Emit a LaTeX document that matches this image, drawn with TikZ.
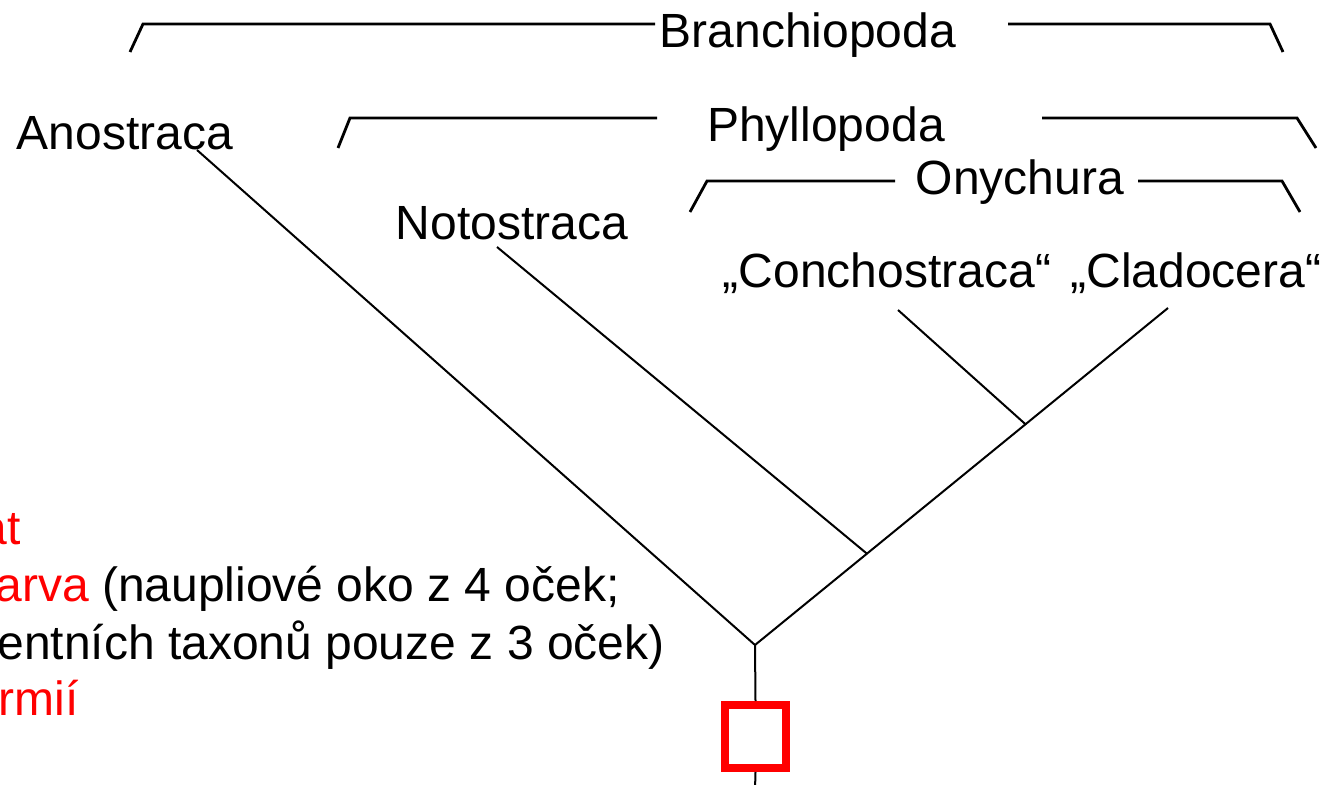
\documentclass[tikz,border=0pt]{standalone}
\usepackage{fontspec}
\setmainfont{Liberation Sans}
\usetikzlibrary{calc}
\begin{document}
\begin{tikzpicture}[x=0.5pt,y=-0.5pt,
  lbl/.style={inner sep=0pt,font=\fontsize{24}{28}\selectfont},
  tree/.style={line width=1pt},
  brk/.style={line width=1.4pt},
  redbox/.style={draw=red,line width=4pt}]
\useasboundingbox (0,0) rectangle (1338,785);
\clip (0,0) rectangle (1338,785);
% labels
\node[lbl,anchor=base] (bra) at (808,48) {Branchiopoda};
\node[lbl,anchor=base] (phy) at (826,142) {Phyllopoda};
\node[lbl,anchor=base] (ony) at (1020,195) {Onychura};
\node[lbl,anchor=base] (ano) at (125,150) {Anostraca};
\node[lbl,anchor=base] (not) at (512,240) {Notostraca};
\node[lbl,anchor=base] (con) at (887,288) {„Conchostraca“};
\node[lbl,anchor=base] (cla) at (1196,288) {„Cladocera“};
% brackets
\coordinate (b1) at (130,52); \coordinate (b2) at (143,24); \coordinate (b3) at (655,24);
\coordinate (b4) at (1008,24); \coordinate (b5) at (1270,24); \coordinate (b6) at (1283,52);
\draw[brk] (b1) -- (b2) -- (b3);
\draw[brk] (b4) -- (b5) -- (b6);
\coordinate (p1) at (338,148); \coordinate (p2) at (350,118); \coordinate (p3) at (657,118);
\coordinate (p4) at (1042,118); \coordinate (p5) at (1297,118); \coordinate (p6) at (1316,148);
\draw[brk] (p1) -- (p2) -- (p3);
\draw[brk] (p4) -- (p5) -- (p6);
\coordinate (o1) at (690,212); \coordinate (o2) at (707,181); \coordinate (o3) at (895,181);
\coordinate (o4) at (1138,181); \coordinate (o5) at (1282,181); \coordinate (o6) at (1300,212);
\draw[brk] (o1) -- (o2) -- (o3);
\draw[brk] (o4) -- (o5) -- (o6);
% tree
\coordinate (root) at (755,645);
\coordinate (anoE) at (197,150);
\coordinate (notE) at (497,247);
\coordinate (conE) at (898,310);
\coordinate (claE) at (1168,308);
\coordinate (jn) at ($(root)!0.271!(claE)$);
\coordinate (jc) at ($(root)!0.655!(claE)$);
\draw[tree] (anoE) -- (root) -- (claE);
\draw[tree] (notE) -- (jn);
\draw[tree] (conE) -- (jc);
\node[redbox,minimum width=30.5pt,minimum height=31.5pt,inner sep=0pt] (box) at (755.5,736.5) {};
\coordinate (bot) at (755,790);
\draw[tree] (root) -- (box.north);
\draw[tree] (box.south) -- (bot);
% left text
\node[lbl,anchor=base west,text=red] (t1) at (-20,545) {at};
\node[lbl,anchor=base west] (t2) at (-5,602) {\textcolor{red}{arva} (naupliové oko z 4 oček;};
\node[lbl,anchor=base west] (t3) at (-3,659) {entních taxonů pouze z 3 oček)};
\node[lbl,anchor=base west,text=red] (t4) at (-2,715) {rmií};
\end{tikzpicture}
\end{document}
